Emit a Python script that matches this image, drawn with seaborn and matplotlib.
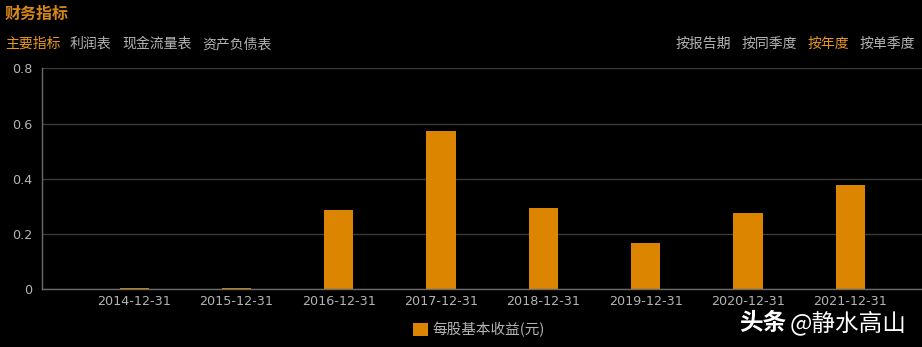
import matplotlib
matplotlib.use("Agg")
import matplotlib.pyplot as plt
import seaborn as sns
import pandas as pd
from matplotlib.patches import Patch

categories = ["2014-12-31", "2015-12-31", "2016-12-31", "2017-12-31",
              "2018-12-31", "2019-12-31", "2020-12-31", "2021-12-31"]
eps_values = [0.006, 0.006, 0.287, 0.573, 0.295, 0.167, 0.276, 0.376]
y_ticks = [0, 0.2, 0.4, 0.6, 0.8]
y_tick_labels = ["0", "0.2", "0.4", "0.6", "0.8"]
series_name = "每股基本收益(元)"
left_tabs = ["主要指标", "利润表", "现金流量表", "资产负债表"]
right_tabs = ["按报告期", "按同季度", "按年度", "按单季度"]

sns.set_theme(style="dark")
plt.rcParams['font.family'] = ['Noto Sans CJK SC', 'DejaVu Sans']

BG = "#000000"
BAR = "#DC8500"
GRID = "#3a3a3a"
AXC = "#6a6a6a"
TXT = "#b4b4b4"
ORANGE = "#E8961E"

df = pd.DataFrame({"date": categories, "eps": eps_values})

fig = plt.figure(figsize=(9.22, 3.47), dpi=100, facecolor=BG)
ax = fig.add_axes([42 / 922, 1 - 289.3 / 347, 1 - 42 / 922, (289.3 - 68.3) / 347])
ax.set_facecolor(BG)

sns.barplot(data=df, x="date", y="eps", color=BAR, width=0.285, ax=ax,
            saturation=1, edgecolor="none")

ax.set_xlim(-0.9, 7.7)
ax.set_ylim(0, 0.8)
ax.set_yticks(y_ticks)
ax.set_yticklabels(y_tick_labels)
ax.yaxis.grid(True, color=GRID, linewidth=1)
ax.xaxis.grid(False)
ax.set_axisbelow(True)
ax.set_xlabel("")
ax.set_ylabel("")
for s in ["top", "right"]:
    ax.spines[s].set_visible(False)
for s in ["left", "bottom"]:
    ax.spines[s].set_visible(True)
    ax.spines[s].set_color(AXC)
    ax.spines[s].set_linewidth(1)
ax.tick_params(axis="both", colors=TXT, labelsize=10, length=0)
ax.tick_params(axis="x", pad=4)
ax.tick_params(axis="y", pad=7)
for lab in ax.get_xticklabels() + ax.get_yticklabels():
    lab.set_color(TXT)
    lab.set_fontfamily(['DejaVu Sans'])
    lab.set_fontsize(9.2)

# Title
fig.text(5 / 922, 1 - 14 / 347, "财务指标", color="#D4861A", fontsize=11.5,
         fontweight="bold", va="center", ha="left")

# Left tabs
x_pos = [5, 70, 122, 202]
for i, (t, xp) in enumerate(zip(left_tabs, x_pos)):
    fig.text(xp / 922, 1 - 44 / 347, t, color=ORANGE if i == 0 else TXT,
             fontsize=10, va="center", ha="left")

# Right tabs
rx = [676, 742, 808, 860]
for i, (t, xp) in enumerate(zip(right_tabs, rx)):
    fig.text(xp / 922, 1 - 44 / 347, t, color=ORANGE if i == 2 else TXT,
             fontsize=10, va="center", ha="left")

# Legend
handles = [Patch(facecolor=BAR, edgecolor="none", label=series_name)]
leg = fig.legend(handles=handles, loc="center", bbox_to_anchor=(479 / 922, 1 - 330 / 347),
                 frameon=False, fontsize=10.5, handlelength=1.0, handleheight=1.0,
                 handletextpad=0.3)
for t in leg.get_texts():
    t.set_color(TXT)

# Watermark
fig.text(739 / 922, 1 - 323 / 347, "头条", color="#ffffff", fontsize=17,
         fontweight="bold", va="center", ha="left")
fig.text(790 / 922, 1 - 323 / 347, "@静水高山", color="#ffffff", fontsize=17,
         va="center", ha="left")

fig.savefig("out.png", dpi=100, facecolor=BG)
